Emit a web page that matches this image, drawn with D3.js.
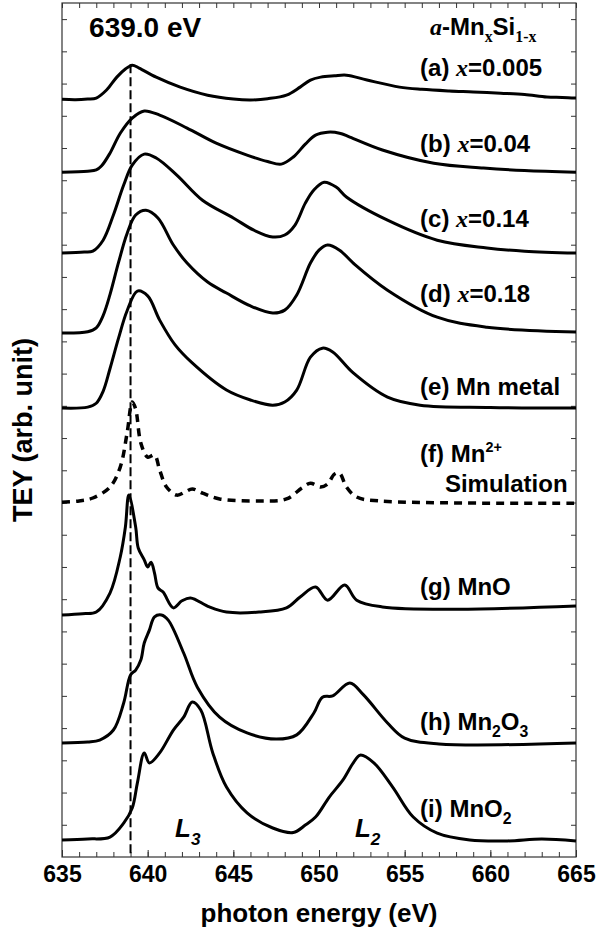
<!DOCTYPE html>
<html>
<head>
<meta charset="utf-8">
<script src="https://cdn.jsdelivr.net/npm/d3@7"></script>
<style>
body { margin: 0; background: #fff; }
text { font-family: "Liberation Sans", Arial, sans-serif; font-weight: bold; fill: #000; }
.tick text { font-weight: 700 !important; }
</style>
</head>
<body>
<svg id="chart"></svg>
<script>
// spectra: [photon energy (eV), TEY (arb. unit, offset)]
var specA = [[635,23.51],[635.8,23.50],[636.5,23.52],[637.0,23.55],[637.6,23.80],[638.2,24.20],[638.7,24.45],[639.1,24.57],[639.5,24.48],[640.5,24.20],[641.9,23.89],[643.5,23.64],[645.0,23.52],[646.0,23.49],[647.0,23.53],[648.1,23.64],[648.9,23.89],[649.5,24.11],[650.1,24.20],[650.9,24.24],[651.6,24.26],[652.8,24.11],[654.7,23.89],[656.0,23.82],[657.6,23.77],[659.0,23.74],[660.6,23.70],[662.0,23.66],[663.3,23.58],[664.2,23.57],[665,23.55]];
var specB = [[635,21.25],[636.5,21.28],[637.0,21.32],[637.3,21.44],[637.8,21.84],[638.4,22.46],[639.1,22.93],[639.8,23.15],[640.7,23.02],[642.3,22.62],[644.0,22.15],[645.8,21.78],[647.0,21.58],[647.8,21.50],[648.5,21.72],[649.2,22.12],[649.8,22.40],[650.5,22.49],[651.2,22.46],[651.8,22.34],[653.7,21.94],[656.7,21.53],[659.6,21.38],[662,21.30],[665,21.25]];
var specC = [[635,18.74],[636.3,18.77],[636.8,18.80],[637.4,19.14],[638.0,19.92],[638.6,20.85],[639.1,21.47],[639.8,21.81],[640.5,21.69],[641.7,21.16],[643.2,20.38],[645.0,19.83],[646.2,19.45],[647.3,19.24],[648.0,19.30],[648.6,19.61],[649.2,20.29],[649.7,20.70],[650.3,20.94],[651.0,20.79],[651.6,20.48],[654.0,19.76],[656.9,19.14],[659.8,18.90],[662,18.80],[665,18.74]];
var specD = [[635,16.26],[636.5,16.30],[637.0,16.42],[637.4,16.80],[637.8,17.45],[638.3,18.45],[638.8,19.35],[639.3,19.92],[639.9,20.07],[640.6,19.83],[641.5,18.99],[642.3,18.43],[643.5,17.84],[644.6,17.50],[646.0,17.10],[647.3,16.88],[648.0,16.97],[648.7,17.44],[649.5,18.43],[650.0,18.83],[650.5,18.99],[651.2,18.83],[652.0,18.43],[654.0,17.59],[656.9,16.75],[659.8,16.44],[665,16.29]];
var specE = [[635,13.93],[636.5,13.96],[637.0,14.08],[637.4,14.45],[637.8,15.15],[638.3,16.10],[638.8,16.95],[639.4,17.56],[640.0,17.41],[640.7,16.66],[641.6,15.89],[642.6,15.33],[644.6,14.49],[646.0,14.18],[647.3,14.02],[648.0,14.12],[648.7,14.49],[649.5,15.51],[650.2,15.79],[650.8,15.67],[652.0,15.02],[654.0,14.27],[655.9,14.02],[660,13.95],[665,13.93]];
var specF = [[635,11.01],[636.0,11.05],[636.8,11.14],[637.8,11.48],[638.4,12.10],[638.8,13.16],[639.1,14.12],[639.3,13.90],[639.6,12.85],[640.0,12.41],[640.4,12.47],[640.7,12.01],[641.1,11.48],[641.7,11.23],[642.2,11.33],[642.6,11.42],[643.2,11.29],[644.2,11.11],[646.6,11.05],[648.1,11.11],[649.0,11.45],[649.5,11.60],[650.1,11.48],[650.5,11.57],[650.9,11.88],[651.2,11.91],[651.6,11.48],[652.2,11.17],[653.5,11.05],[665,10.98]];
var specG = [[635,7.51],[636.2,7.55],[637.0,7.60],[637.8,8.19],[638.4,9.31],[638.7,10.24],[638.9,11.23],[639.3,10.24],[639.45,9.59],[639.8,9.22],[640.0,9.00],[640.2,9.15],[640.4,8.81],[640.6,8.35],[640.9,8.22],[641.5,7.73],[642.0,7.95],[642.5,8.04],[643.6,7.76],[644.6,7.60],[646.5,7.60],[648.1,7.73],[648.9,8.07],[649.8,8.38],[650.5,7.97],[651.5,8.44],[652.2,7.97],[653.7,7.76],[658,7.69],[665,7.79]];
var specH = [[635,3.54],[636.5,3.57],[637.2,3.63],[638.0,3.94],[638.6,4.78],[639.0,5.65],[639.3,5.80],[639.6,6.11],[639.8,6.64],[640.1,7.04],[640.4,7.45],[640.8,7.51],[641.2,7.35],[642.1,6.33],[642.9,5.27],[644.2,4.34],[645.8,3.85],[647.5,3.66],[648.7,3.79],[649.7,4.47],[650.2,4.96],[650.8,5.00],[651.8,5.40],[652.6,5.03],[654.0,4.16],[655.0,3.69],[657,3.51],[665,3.54]];
var specI = [[635,0.53],[636.5,0.56],[637.8,0.62],[638.6,1.05],[639.1,1.52],[639.4,2.30],[639.8,3.23],[640.1,2.92],[640.7,3.23],[641.5,3.94],[642.1,4.34],[642.6,4.81],[643.1,4.56],[643.8,3.23],[644.6,2.17],[645.8,1.37],[647.3,0.90],[648.5,0.76],[649.2,0.99],[649.8,1.24],[650.6,1.86],[651.4,2.39],[652.0,2.92],[652.4,3.16],[653.2,2.92],[654.3,2.17],[655.5,1.24],[656.9,0.74],[658.8,0.53],[661,0.50],[663,0.56],[665,0.50]];

var spectra = [specA, specB, specC, specD, specE, specF, specG, specH, specI];
var dashedSpectrum = 5; // (f) simulation

// label text pieces: [text, style] ; label anchor in data units [eV, TEY]
var labelParts = [
    [["(a) "], ["x", "serif"], ["=0.005"]],
    [["(b) "], ["x", "serif"], ["=0.04"]],
    [["(c) "], ["x", "serif"], ["=0.14"]],
    [["(d) "], ["x", "serif"], ["=0.18"]],
    [["(e) Mn metal"]],
    [["(f) Mn"], ["2+", "sup"]],
    [["Simulation"]],
    [["(g) MnO"]],
    [["(h) Mn"], ["2", "sub"], ["O"], ["3", "sub"]],
    [["(i) MnO"], ["2", "sub"]]
];
var labelPos = [[655.9,24.23],[655.9,21.87],[655.9,19.55],[655.9,17.22],[655.9,14.33],[655.9,12.26],[657.35,11.32],[655.9,8.13],[655.9,3.94],[655.9,1.24]];

var edgeEnergy = 639.0;
var xTicks = [635, 640, 645, 650, 655, 660, 665];

var width = 598, height = 929,
    margin = { top: 3, right: 22, bottom: 72, left: 62 };

var svg = d3.select('#chart').attr('width', width).attr('height', height);

var x = d3.scaleLinear().domain([635, 665]).range([margin.left, width - margin.right]);
var y = d3.scaleLinear().domain([0, 26.5]).range([height - margin.bottom, margin.top]);

// axes: ticks point inward on all four sides
var minor = d3.range(635, 666, 1);
var yt = d3.range(1, 27, 1);

svg.append('g').attr('transform', 'translate(0,' + y(0) + ')')
    .call(d3.axisBottom(x).tickValues(minor).tickSize(-5).tickFormat(''));
svg.append('g').attr('transform', 'translate(0,' + y(0) + ')')
    .call(d3.axisBottom(x).tickValues(xTicks).tickSizeInner(-7).tickSizeOuter(0).tickPadding(9).tickFormat(d3.format('d')))
    .attr('font-weight', 'bold');
svg.append('g').attr('transform', 'translate(0,' + y(26.5) + ')')
    .call(d3.axisTop(x).tickValues(minor).tickSize(-5).tickFormat(''));
svg.append('g').attr('transform', 'translate(' + x(635) + ',0)')
    .call(d3.axisLeft(y).tickValues(yt).tickSize(-5).tickFormat(''));
svg.append('g').attr('transform', 'translate(' + x(665) + ',0)')
    .call(d3.axisRight(y).tickValues(yt).tickSize(-5).tickFormat(''));

svg.selectAll('.domain').remove();
svg.selectAll('.tick line').attr('stroke', '#333').attr('stroke-width', 1);
svg.selectAll('.tick text')
    .attr('font-family', '"Liberation Sans", Arial, sans-serif')
    .attr('font-size', 23)
    .attr('font-weight', 'bold')
    .attr('fill', '#000');

svg.append('rect')
    .attr('x', x(635)).attr('y', y(26.5))
    .attr('width', x(665) - x(635)).attr('height', y(0) - y(26.5))
    .attr('fill', 'none').attr('stroke', '#333').attr('stroke-width', 1.2);

// reference line at the Mn2+ main peak
svg.append('line')
    .attr('x1', x(edgeEnergy)).attr('x2', x(edgeEnergy))
    .attr('y1', y(24.6)).attr('y2', y(0))
    .attr('stroke', '#000').attr('stroke-width', 2)
    .attr('stroke-dasharray', '9,4');

var line = d3.line()
    .x(function (d) { return x(d[0]); })
    .y(function (d) { return y(d[1]); })
    .curve(d3.curveCatmullRom.alpha(0.5));

svg.append('g').selectAll('path')
    .data(spectra)
    .enter()
    .append('path')
    .attr('d', line)
    .attr('fill', 'none')
    .attr('stroke', '#000')
    .attr('stroke-width', function (d, i) { return i === dashedSpectrum ? 3.5 : 3; })
    .attr('stroke-linejoin', 'round')
    .attr('stroke-dasharray', function (d, i) { return i === dashedSpectrum ? '8,6' : null; });

// rich text helper (sub/superscripts, serif italic variable)
function rich(px, py, parts, size) {
    var t = svg.append('text').attr('x', px).attr('y', py).style('font-size', size + 'px');
    var shift = 0;
    parts.forEach(function (p) {
        var kind = p[1] || '';
        var target = 0, fs = size;
        if (kind.indexOf('sub') >= 0) { target = size * 0.3; fs = size * 0.66; }
        if (kind.indexOf('sup') >= 0) { target = -size * 0.42; fs = size * 0.6; }
        var s = t.append('tspan').text(p[0]).attr('dy', target - shift).style('font-size', fs + 'px');
        shift = target;
        if (kind.indexOf('serif') >= 0) s.style('font-family', '"Liberation Serif", "Times New Roman", serif');
        if (kind.indexOf('ital') >= 0 || kind === 'serif') s.style('font-style', 'italic');
    });
    return t;
}

labelParts.forEach(function (parts, i) {
    rich(x(labelPos[i][0]), y(labelPos[i][1]), parts, 24);
});

// composition title
rich(x(656.48), y(25.5), [['a', 'serif'], ['-Mn'], ['x', 'sub serifup'], ['Si'], ['1-x', 'sub serifup']], 24);

// peak energy marker
rich(x(636.58), y(25.44), [['639.0 eV']], 28);

// edge labels
rich(x(641.6), y(0.62), [['L', 'ital'], ['3', 'sub ital']], 26);
rich(x(652.1), y(0.62), [['L', 'ital'], ['2', 'sub ital']], 26);

// axis titles
svg.append('text')
    .attr('x', (x(635) + x(665)) / 2).attr('y', 922)
    .attr('text-anchor', 'middle')
    .style('font-size', '26px')
    .text('photon energy (eV)');

svg.append('text')
    .attr('transform', 'translate(32,' + (y(0) + y(26.5)) / 2 + ') rotate(-90)')
    .attr('text-anchor', 'middle')
    .style('font-size', '27px')
    .text('TEY (arb. unit)');
</script>
</body>
</html>
